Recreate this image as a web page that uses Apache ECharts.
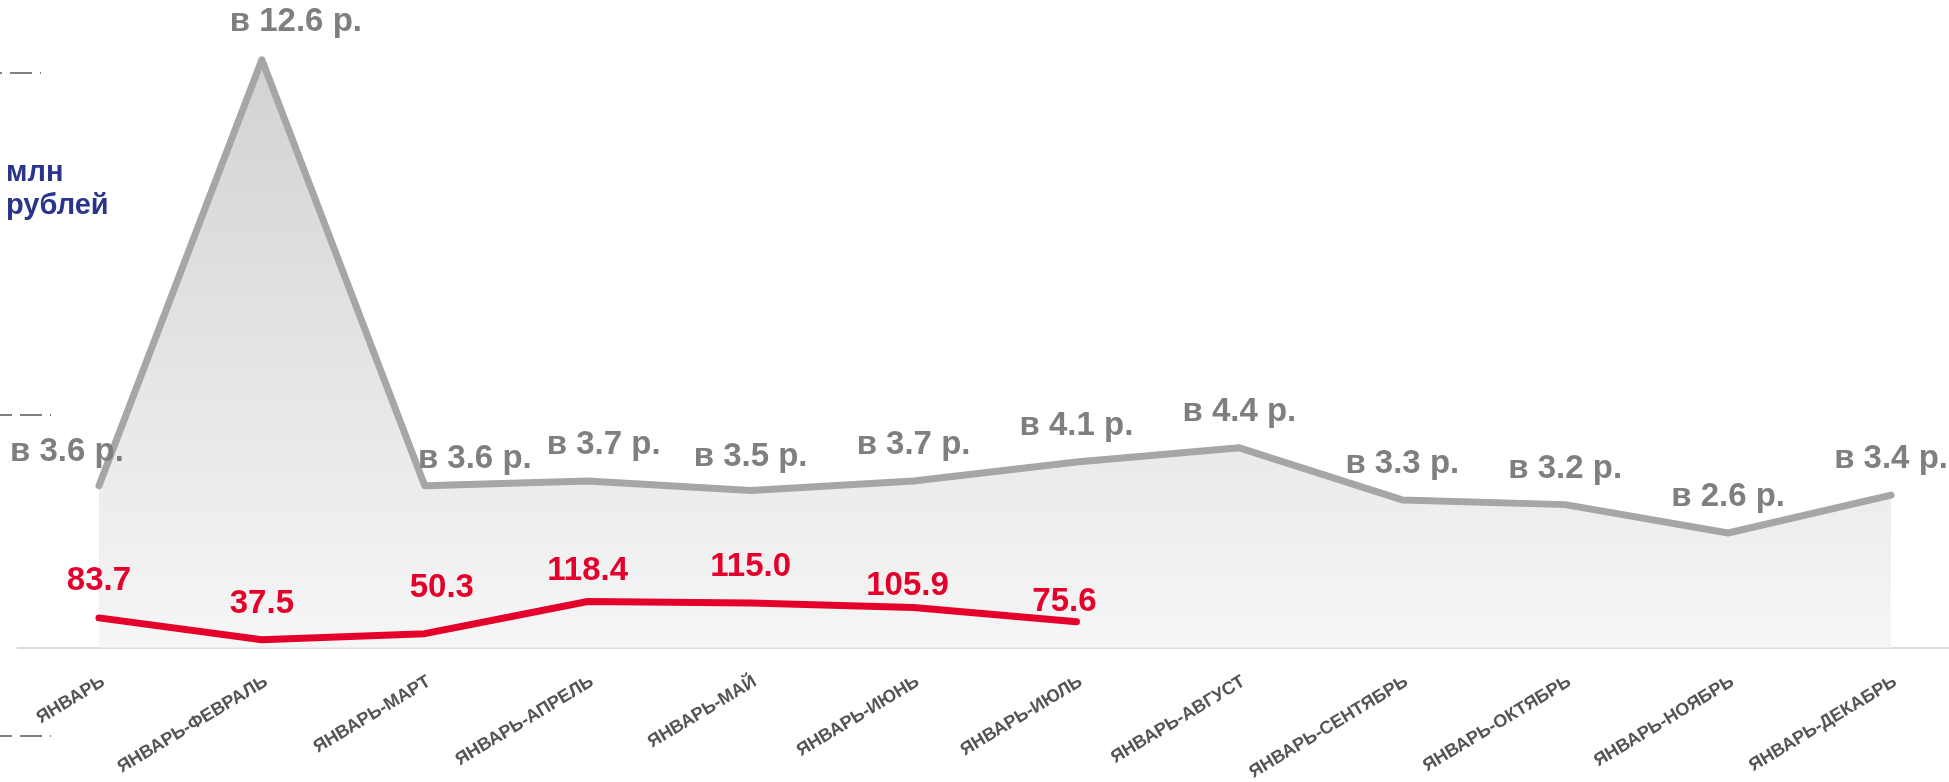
<!DOCTYPE html>
<html>
<head>
<meta charset="utf-8">
<script src="https://cdn.jsdelivr.net/npm/echarts@6/dist/echarts.min.js"></script>
<style>
html,body{margin:0;padding:0;background:#fff;}
#chart{width:1949px;height:782px;}
</style>
</head>
<body>
<div id="chart"></div>
<script>
// ---- data ----
const categories = ['ЯНВАРЬ','ЯНВАРЬ-ФЕВРАЛЬ','ЯНВАРЬ-МАРТ','ЯНВАРЬ-АПРЕЛЬ','ЯНВАРЬ-МАЙ','ЯНВАРЬ-ИЮНЬ','ЯНВАРЬ-ИЮЛЬ','ЯНВАРЬ-АВГУСТ','ЯНВАРЬ-СЕНТЯБРЬ','ЯНВАРЬ-ОКТЯБРЬ','ЯНВАРЬ-НОЯБРЬ','ЯНВАРЬ-ДЕКАБРЬ'];
const ratioValues = [3.6, 12.6, 3.6, 3.7, 3.5, 3.7, 4.1, 4.4, 3.3, 3.2, 2.6, 3.4];
const rubleValues = [83.7, 37.5, 50.3, 118.4, 115.0, 105.9, 75.6];
const unitLabel = 'млн\nрублей';

// ---- label placement (style, not data) ----
const ratioLabelOffsets = [[-32,2],[34,-2],[50,9],[16,0],[0,2],[0,0],[0,0],[0,0],[0,0],[0,0],[0,0],[0,0]];
const rubleLabelOffsets = [[0,-1],[0,0],[17,-10],[0,5],[0,0],[-6,14],[-12,16]];

const FONT = 'Arial, "Liberation Sans", sans-serif';

const chart = echarts.init(document.getElementById('chart'));

const ratioData = ratioValues.map((v, i) => ({ value: v, label: { offset: ratioLabelOffsets[i] } }));
const rubleData = rubleValues.map((v, i) => ({ value: v, label: { offset: rubleLabelOffsets[i] } }));

function dash(y, len, off) {
  return {
    type: 'line', silent: true,
    shape: { x1: 0, y1: y, x2: len, y2: y },
    style: { stroke: '#808080', lineWidth: 2, lineDash: [22, 8], lineDashOffset: off }
  };
}

chart.setOption({
  animation: false,
  backgroundColor: '#ffffff',
  grid: { left: 17.5, right: -23.5, top: 48, bottom: 134, containLabel: false, outerBoundsMode: 'none' },
  xAxis: {
    type: 'category',
    data: categories,
    boundaryGap: true,
    axisTick: { show: false },
    axisLine: { show: true, lineStyle: { color: '#d9d9d9', width: 2 } },
    axisLabel: {
      interval: 0, rotate: 31, margin: 35,
      color: '#555555', fontFamily: FONT, fontSize: 18, fontWeight: 'bold',
      padding: [0, -5, 0, 0]
    },
    splitLine: { show: false }
  },
  yAxis: [
    { type: 'value', min: 20, max: 1290, show: false, splitLine: { show: false } },
    { type: 'value', min: 0.17, max: 12.85, show: false, splitLine: { show: false } }
  ],
  series: [
    {
      name: 'ratio', type: 'line', yAxisIndex: 1, data: ratioData,
      symbol: 'circle', symbolSize: 1, showSymbol: true,
      itemStyle: { color: 'rgba(0,0,0,0)' },
      lineStyle: { color: '#a6a6a6', width: 7, cap: 'round', join: 'round' },
      areaStyle: {
        origin: 'start',
        color: new echarts.graphic.LinearGradient(0, 0, 0, 1, [
          { offset: 0, color: '#bfbfbf' },
          { offset: 1, color: '#f2f2f2' }
        ])
      },
      label: {
        show: true, position: 'top', distance: 19,
        color: '#7f7f7f', fontFamily: FONT, fontSize: 33, fontWeight: 'bold',
        formatter: p => 'в ' + p.value.toFixed(1) + ' р.'
      },
      emphasis: { disabled: true },
      z: 2
    },
    {
      name: 'rubles', type: 'line', yAxisIndex: 0, data: rubleData,
      symbol: 'circle', symbolSize: 1, showSymbol: true,
      itemStyle: { color: 'rgba(0,0,0,0)' },
      lineStyle: { color: '#e4002b', width: 7, cap: 'round', join: 'round' },
      label: {
        show: true, position: 'top', distance: 19,
        color: '#e4002b', fontFamily: FONT, fontSize: 33, fontWeight: 'bold',
        formatter: p => p.value.toFixed(1)
      },
      emphasis: { disabled: true },
      z: 3
    }
  ],
  graphic: [
    {
      type: 'text', left: 6, top: 156, silent: true,
      style: {
        text: unitLabel, fill: '#29348a', font: 'bold 29px ' + FONT, lineHeight: 33
      }
    },
    dash(73, 41, 20),
    dash(415, 51, 10),
    dash(736, 51, 10)
  ]
});
</script>
</body>
</html>
